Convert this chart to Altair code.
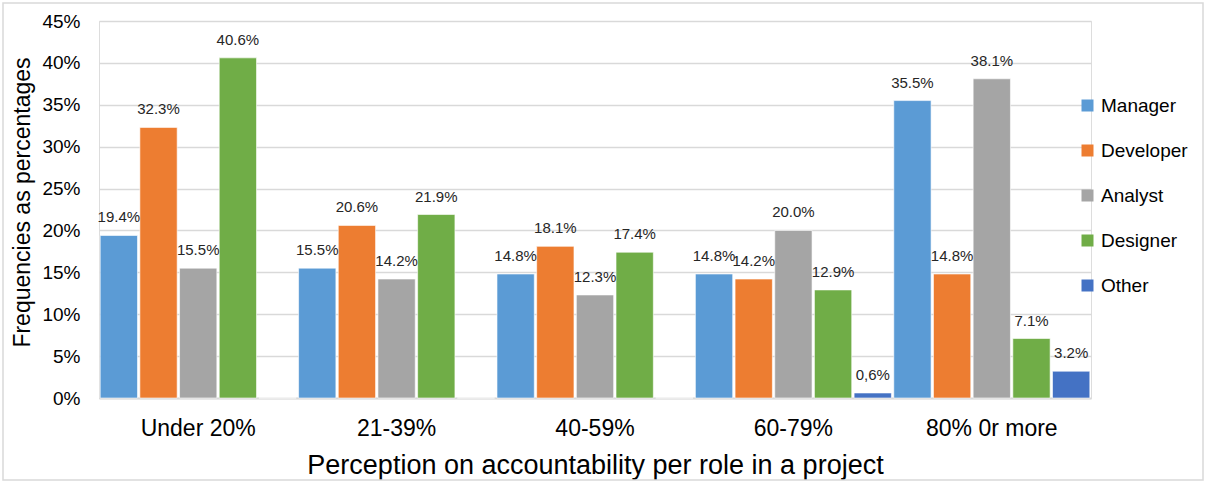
import altair as alt
import pandas as pd

categories = ["Under 20%", "21-39%", "40-59%", "60-79%", "80% 0r more"]
roles = ["Manager", "Developer", "Analyst", "Designer", "Other"]
colors = ["#5b9bd5", "#ed7d31", "#a5a5a5", "#70ad47", "#4472c4"]

manager = [19.4, 15.5, 14.8, 14.8, 35.5]
developer = [32.3, 20.6, 18.1, 14.2, 14.8]
analyst = [15.5, 14.2, 12.3, 20.0, 38.1]
designer = [40.6, 21.9, 17.4, 12.9, 7.1]
other = [0.0, 0.0, 0.0, 0.6, 3.2]

manager_lbl = ["19.4%", "15.5%", "14.8%", "14.8%", "35.5%"]
developer_lbl = ["32.3%", "20.6%", "18.1%", "14.2%", "14.8%"]
analyst_lbl = ["15.5%", "14.2%", "12.3%", "20.0%", "38.1%"]
designer_lbl = ["40.6%", "21.9%", "17.4%", "12.9%", "7.1%"]
other_lbl = ["", "", "", "0,6%", "3.2%"]

series = [manager, developer, analyst, designer, other]
series_lbl = [manager_lbl, developer_lbl, analyst_lbl, designer_lbl, other_lbl]

rows = []
for role, vals, lbls in zip(roles, series, series_lbl):
    for cat, v, l in zip(categories, vals, lbls):
        rows.append({"cat": cat, "role": role, "value": v, "label": l})
df = pd.DataFrame(rows)

FONT = "Liberation Sans"

x_enc = alt.X(
    "cat:N", sort=categories,
    scale=alt.Scale(paddingInner=0, paddingOuter=0),
    axis=alt.Axis(
        title="Perception on accountability per role in a project",
        labelAngle=0, labelFontSize=23, labelFont=FONT, labelColor="#000000",
        labelBaseline="alphabetic", labelPadding=37,
        ticks=False, tickSize=0, domainColor="#d9d9d9", domainWidth=2,
        grid=False, titleFontSize=27, titleFont=FONT, titleFontWeight="normal",
        titleColor="#000000", titleBaseline="alphabetic", titleY=75,
    ),
)
xoff = alt.XOffset("role:N", sort=roles,
                   scale=alt.Scale(paddingInner=0.06, paddingOuter=0.03))
y_enc = alt.Y(
    "value:Q",
    scale=alt.Scale(domain=[0, 45], nice=False),
    axis=alt.Axis(
        values=[0, 5, 10, 15, 20, 25, 30, 35, 40, 45],
        labelExpr="datum.value + '%'",
        title="Frequencies as percentages",
        labelFontSize=19, labelFont=FONT, labelColor="#000000", labelPadding=19,
        ticks=False, tickSize=0, domain=False,
        gridColor="#d9d9d9", gridWidth=1.3,
        titleFontSize=23, titleFont=FONT, titleFontWeight="normal",
        titleColor="#000000", titleAngle=-90, titleX=-77, titleY=181,
        titleAlign="center", titleBaseline="middle",
    ),
)

color_enc = alt.Color(
    "role:N", sort=roles,
    scale=alt.Scale(domain=roles, range=colors),
    legend=alt.Legend(
        title=None, orient="none", legendX=979, legendY=75,
        symbolType="square", symbolSize=144, symbolStrokeWidth=0,
        labelFontSize=19, labelFont=FONT, labelColor="#000000",
        rowPadding=25, labelOffset=4,
    ),
)

bars = alt.Chart(df).mark_bar(stroke="white", strokeWidth=0.6).encode(
    x=x_enc, xOffset=xoff, y=y_enc, color=color_enc
)

text = alt.Chart(df).transform_filter("datum.value > 0").mark_text(
    baseline="bottom", dy=-10, fontSize=15, font=FONT, color="#262626"
).encode(
    x=alt.X("cat:N", sort=categories), xOffset=alt.XOffset("role:N", sort=roles),
    y="value:Q", text="label:N"
)

frame = alt.Chart(alt.Data(values=[{"a": 1}])).mark_rect(
    fill=None, stroke="#d9d9d9", strokeWidth=1.5
).encode(
    x=alt.value(-96), x2=alt.value(1104), y=alt.value(-18), y2=alt.value(459)
)

chart = alt.layer(bars, text, frame).properties(
    width=992, height=377,
    autosize=alt.AutoSizeParams(type="none"),
    padding={"left": 99, "top": 21, "right": 116, "bottom": 84},
).configure_view(stroke=None).configure(background="white")

chart.save("out.html", embed_options={"renderer": "svg", "actions": False})
